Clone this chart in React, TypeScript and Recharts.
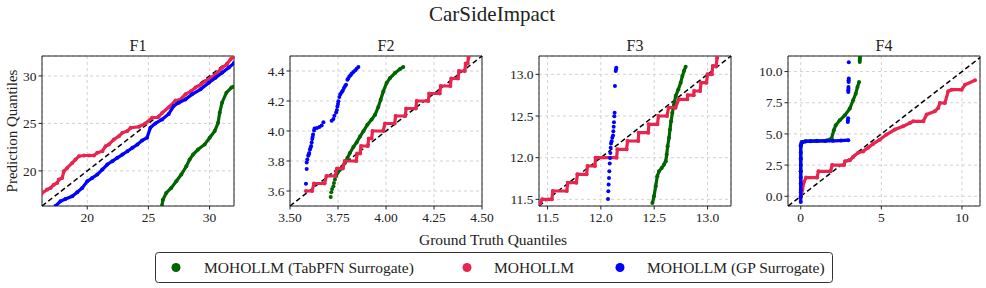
import React from "react";
import { ScatterChart, Scatter, XAxis, YAxis, CartesianGrid, ReferenceLine, ReferenceArea } from "recharts";

const GREEN = "#006400";
const RED = "#e8254f";
const BLUE = "#0000ff";
const INK = "#222";
const FONT = '"Liberation Serif", "Times New Roman", serif';

type P = [number, number];

// --- F1 ---
const f1Green: P[] = [[26.1,16.3],[26.19,16.97],[26.46,17.67],[26.87,18.2],[27.28,18.9],[27.69,19.61],[28.1,20.49],[28.37,21.19],[28.65,21.72],[29.06,22.25],[29.6,22.78],[30.01,23.48],[30.42,24.19],[30.7,25.07],[30.83,26.12],[31.02,27.18],[31.38,28.24],[31.79,28.77],[32.0,28.9]];
const f1Red: P[] = [[16.31,17.67],[16.72,18.03],[17.0,18.2],[17.27,18.55],[17.54,18.73],[17.68,19.08],[17.95,19.26],[18.09,19.96],[18.36,20.31],[18.77,20.84],[19.04,21.19],[19.32,21.55],[19.73,21.62],[20.14,21.62],[20.55,21.62],[20.82,21.9],[21.23,22.07],[21.5,22.6],[21.77,22.78],[22.18,23.31],[22.59,23.66],[22.87,24.01],[23.28,24.19],[23.55,24.54],[24.23,24.65],[24.75,25.0],[25.3,25.6],[25.8,25.65],[26.12,26.1],[26.66,26.7],[27.21,27.4],[27.6,27.5],[28.03,28.06],[28.5,28.4],[28.85,28.77],[29.3,29.1],[29.67,29.47],[30.1,29.8],[30.49,30.17],[31.04,30.88],[31.4,31.2],[31.72,31.76],[32.0,32.1]];
const f1Blue: P[] = [[17.4,16.3],[17.81,16.79],[18.22,17.04],[18.77,17.32],[19.18,17.74],[19.59,18.2],[20.0,18.9],[20.41,19.26],[20.82,19.61],[21.23,20.14],[21.64,20.67],[22.05,21.02],[22.46,21.37],[22.87,21.72],[23.28,22.07],[23.69,22.43],[24.1,22.78],[24.48,23.2],[24.89,23.5],[25.16,24.54],[25.57,25.0],[26.12,25.42],[26.66,26.0],[27.07,26.83],[27.48,27.18],[28.03,27.53],[28.57,28.06],[29.26,28.59],[29.94,29.29],[30.49,29.82],[31.04,30.35],[31.58,30.9],[32.0,31.35]];

// --- F2 ---
const f2GreenLow: P[] = [[3.712,3.56],[3.715,3.591],[3.719,3.613],[3.726,3.631],[3.729,3.653],[3.734,3.676],[3.74,3.702]];
const f2Green: P[] = [[3.74,3.702],[3.76,3.742],[3.786,3.787],[3.799,3.82],[3.812,3.853],[3.83,3.893],[3.847,3.924],[3.865,3.964],[3.882,3.998],[3.903,4.042],[3.925,4.076],[3.943,4.109],[3.96,4.16],[3.972,4.209],[3.986,4.264],[4.003,4.32],[4.021,4.353],[4.047,4.387],[4.073,4.413],[4.09,4.427]];
const f2Red: P[] = [[3.583,3.6],[3.615,3.6],[3.625,3.65],[3.68,3.65],[3.69,3.7],[3.735,3.7],[3.745,3.75],[3.775,3.75],[3.785,3.8],[3.845,3.8],[3.85,3.85],[3.865,3.85],[3.87,3.9],[3.905,3.9],[3.91,3.95],[3.925,3.95],[3.93,4.0],[3.985,4.0],[3.995,4.05],[4.045,4.05],[4.05,4.1],[4.1,4.1],[4.105,4.15],[4.155,4.15],[4.16,4.2],[4.22,4.2],[4.225,4.25],[4.28,4.25],[4.285,4.3],[4.335,4.3],[4.34,4.35],[4.375,4.35],[4.38,4.4],[4.41,4.4],[4.415,4.45],[4.425,4.45],[4.43,4.49]];
const f2Blue: P[] = [[3.583,3.649],[3.587,3.747],[3.587,3.79],[3.59,3.81],[3.595,3.835],[3.598,3.845],[3.6,3.853],[3.604,3.876],[3.607,3.888],[3.61,3.9],[3.613,3.924],[3.616,3.947],[3.618,3.96],[3.62,3.976],[3.625,4.004],[3.628,4.016],[3.64,4.02],[3.653,4.027],[3.665,4.036],[3.674,4.058],[3.717,4.069],[3.726,4.08],[3.731,4.102],[3.74,4.124],[3.744,4.14],[3.747,4.164],[3.75,4.18],[3.752,4.198],[3.757,4.227],[3.762,4.245],[3.769,4.258],[3.775,4.27],[3.781,4.287],[3.787,4.3],[3.792,4.309],[3.799,4.342],[3.803,4.35],[3.809,4.364],[3.815,4.372],[3.821,4.382],[3.83,4.393],[3.839,4.404],[3.847,4.415],[3.856,4.427]];

// --- F3 ---
const f3Green: P[] = [[12.483,11.456],[12.498,11.536],[12.514,11.657],[12.529,11.777],[12.545,11.837],[12.57,11.877],[12.592,11.917],[12.608,11.957],[12.617,12.037],[12.626,12.138],[12.639,12.238],[12.648,12.338],[12.658,12.438],[12.67,12.539],[12.686,12.639],[12.701,12.739],[12.726,12.819],[12.748,12.899],[12.764,12.979],[12.779,13.04],[12.795,13.092]];
const f3Red: P[] = [[11.43,11.45],[11.45,11.5],[11.54,11.5],[11.55,11.6],[11.68,11.6],[11.69,11.7],[11.77,11.7],[11.78,11.8],[11.866,11.8],[11.875,11.9],[11.944,11.9],[11.95,12.0],[12.147,12.0],[12.155,12.1],[12.241,12.1],[12.25,12.2],[12.35,12.2],[12.355,12.3],[12.445,12.3],[12.45,12.4],[12.53,12.4],[12.54,12.5],[12.62,12.5],[12.635,12.6],[12.7,12.6],[12.73,12.7],[12.81,12.7],[12.815,12.75],[12.87,12.75],[12.875,12.8],[12.93,12.8],[12.94,12.9],[12.99,12.9],[13.0,13.0],[13.04,13.0],[13.05,13.1],[13.08,13.1],[13.09,13.2]];
const f3Blue: P[] = [[12.067,11.504],[12.07,11.596],[12.073,11.677],[12.076,11.757],[12.079,11.837],[12.083,11.929],[12.086,11.997],[12.089,12.057],[12.092,12.118],[12.095,12.17],[12.101,12.198],[12.107,12.238],[12.114,12.266],[12.117,12.318],[12.12,12.37],[12.123,12.426],[12.126,12.498],[12.129,12.539],[12.132,12.859],[12.139,13.04],[12.142,13.06],[12.145,13.08]];

// --- F4 ---
const f4GreenMain: P[] = [[0,0.3],[0,1],[0,2],[0,3],[0,4],[0.05,4.35],[0.3,4.42],[1.0,4.45],[1.6,4.47],[1.91,4.63],[2.05,5.29],[2.17,5.69],[2.42,6.09],[2.73,6.49],[3.04,7.03],[3.25,7.7],[3.41,8.23],[3.52,8.76],[3.62,9.16]];
const f4GreenTail: P[] = [[3.66,10.77],[3.66,10.9],[3.67,11.05],[3.67,11.17]];
const f4Red: P[] = [[0,-0.1],[0.1,0.5],[0.2,1.15],[0.33,1.5],[1.01,1.5],[1.1,2.0],[1.85,2.0],[1.95,2.5],[2.68,2.5],[2.75,2.8],[3.04,2.89],[3.25,3.15],[3.56,3.5],[3.87,3.6],[4.18,3.9],[4.49,4.2],[4.9,4.54],[5.32,4.95],[5.84,5.35],[6.35,5.61],[6.77,5.88],[6.98,6.01],[7.6,6.01],[7.81,6.55],[8.32,6.81],[8.53,7.08],[8.63,7.48],[8.94,7.48],[9.15,8.42],[9.36,8.55],[9.98,8.55],[10.19,8.95],[10.81,9.3]];
const f4BlueMain: P[] = [[0,-0.45],[0,0],[0,0.5],[0,1],[0,1.5],[0,2],[0,2.5],[0,3],[0,3.5],[0,4.1],[0.05,4.25],[0.15,4.35],[0.3,4.4],[0.6,4.42],[1,4.43],[1.5,4.44],[2,4.45],[2.5,4.47],[2.95,4.5]];
const f4BlueTail: P[] = [[2.92,5.96],[2.93,6.1],[2.94,6.25],[2.95,8.36],[2.95,8.5],[2.96,8.62],[2.96,8.76],[2.97,9.16],[2.97,9.3],[2.98,9.44],[2.98,10.74]];

// --- ticks ---
const f1Ticks = [20, 25, 30];
const f2XTicks = [3.5, 3.75, 4.0, 4.25, 4.5];
const f2YTicks = [3.6, 3.8, 4.0, 4.2, 4.4];
const f3Ticks = [11.5, 12.0, 12.5, 13.0];
const f4XTicks = [0, 5, 10];
const f4YTicks = [0, 2.5, 5, 7.5, 10];

const legendItems = [
  { label: "MOHOLLM (TabPFN Surrogate)", color: GREEN, dot: 176, text: 204 },
  { label: "MOHOLLM", color: RED, dot: 467, text: 494 },
  { label: "MOHOLLM (GP Surrogate)", color: BLUE, dot: 620, text: 647 },
];

interface SeriesDef { data: P[]; color: string; line?: boolean }
interface PanelDef {
  title: string;
  left: number;
  xDomain: [number, number];
  yDomain: [number, number];
  xTicks: number[];
  yTicks: number[];
  xFmt: (v: number) => string;
  yFmt: (v: number) => string;
  series: SeriesDef[];
}

const PLOT_W = 192;
const PLOT_H = 150;
const PLOT_TOP = 56;
const Y_W = 45;

const panels: PanelDef[] = [
  {
    title: "F1", left: 42, xDomain: [16.3, 32], yDomain: [16.3, 32.1],
    xTicks: f1Ticks, yTicks: f1Ticks, xFmt: (v) => String(v), yFmt: (v) => String(v),
    series: [
      { data: f1Green, color: GREEN, line: true },
      { data: f1Red, color: RED, line: true },
      { data: f1Blue, color: BLUE, line: true },
    ],
  },
  {
    title: "F2", left: 290, xDomain: [3.5, 4.5], yDomain: [3.5, 4.5],
    xTicks: f2XTicks, yTicks: f2YTicks, xFmt: (v) => v.toFixed(2), yFmt: (v) => v.toFixed(1),
    series: [
      { data: f2GreenLow, color: GREEN },
      { data: f2Green, color: GREEN, line: true },
      { data: f2Red, color: RED, line: true },
      { data: f2Blue, color: BLUE },
    ],
  },
  {
    title: "F3", left: 539, xDomain: [11.42, 13.22], yDomain: [11.42, 13.22],
    xTicks: f3Ticks, yTicks: f3Ticks, xFmt: (v) => v.toFixed(1), yFmt: (v) => v.toFixed(1),
    series: [
      { data: f3Green, color: GREEN, line: true },
      { data: f3Red, color: RED, line: true },
      { data: f3Blue, color: BLUE },
    ],
  },
  {
    title: "F4", left: 788, xDomain: [-0.79, 11.12], yDomain: [-0.78, 11.25],
    xTicks: f4XTicks, yTicks: f4YTicks, xFmt: (v) => String(v), yFmt: (v) => v.toFixed(1),
    series: [
      { data: f4GreenMain, color: GREEN, line: true },
      { data: f4GreenTail, color: GREEN },
      { data: f4Red, color: RED, line: true },
      { data: f4BlueMain, color: BLUE, line: true },
      { data: f4BlueTail, color: BLUE },
    ],
  },
];

const toXY = (pts: P[]) => pts.map(([x, y]) => ({ x, y }));

const dot = (color: string) => (props: any) => (
  <circle cx={props.cx} cy={props.cy} r={2} fill={color} />
);

// serif tick labels drawn by hand so the font sticks
const xTick = (fmt: (v: number) => string) => (props: any) => (
  <text x={props.x} y={props.y} dy="0.75em" textAnchor="middle" fontSize={13.5} fontFamily={FONT} fill={INK}>
    {fmt(props.payload.value)}
  </text>
);
const yTick = (fmt: (v: number) => string) => (props: any) => (
  <text x={props.x} y={props.y} dy="0.35em" textAnchor="end" fontSize={13.5} fontFamily={FONT} fill={INK}>
    {fmt(props.payload.value)}
  </text>
);

function Panel({ p }: { p: PanelDef }) {
  const lo = Math.max(p.xDomain[0], p.yDomain[0]);
  const hi = Math.min(p.xDomain[1], p.yDomain[1]);
  return (
    <div style={{ position: "absolute", left: p.left - Y_W, top: PLOT_TOP - 10 }}>
      <ScatterChart width={Y_W + PLOT_W + 15} height={10 + PLOT_H + 25} margin={{ top: 10, right: 15, bottom: 0, left: 0 }}>
        <CartesianGrid strokeDasharray="3 3" stroke="#d2d2d2" />
        <XAxis
          type="number" dataKey="x" domain={p.xDomain} ticks={p.xTicks}
          allowDataOverflow interval={0} height={25} axisLine={false}
          tickSize={3.5} tickLine={{ stroke: INK }} tick={xTick(p.xFmt)}
        />
        <YAxis
          type="number" dataKey="y" domain={p.yDomain} ticks={p.yTicks}
          allowDataOverflow interval={0} width={Y_W} axisLine={false}
          tickSize={3.5} tickLine={{ stroke: INK }} tick={yTick(p.yFmt)}
        />
        {p.series.map((s, i) => (
          <Scatter
            key={i}
            data={toXY(s.data)}
            fill={s.color}
            line={s.line ? { stroke: s.color, strokeWidth: 3.2 } : false}
            shape={dot(s.color)}
            isAnimationActive={false}
          />
        ))}
        <ReferenceLine
          segment={[{ x: lo, y: lo }, { x: hi, y: hi }]}
          stroke="#000" strokeWidth={1.5} strokeDasharray="5 3" ifOverflow="visible"
        />
        <ReferenceArea
          x1={p.xDomain[0]} x2={p.xDomain[1]} y1={p.yDomain[0]} y2={p.yDomain[1]}
          fill="none" fillOpacity={0} stroke={INK} strokeWidth={1} ifOverflow="visible"
        />
      </ScatterChart>
    </div>
  );
}

export default function App() {
  return (
    <div style={{ position: "absolute", left: 0, top: 0, width: 986, height: 288, overflow: "hidden", background: "#fff", fontFamily: FONT }}>
      {panels.map((p) => (
        <Panel key={p.title} p={p} />
      ))}
      <svg width={986} height={288} style={{ position: "absolute", left: 0, top: 0, pointerEvents: "none", fontFamily: FONT }}>
        <text x={492} y={21} textAnchor="middle" fontSize={21} fill={INK}>CarSideImpact</text>
        {panels.map((p) => (
          <text key={p.title} x={p.left + PLOT_W / 2} y={50.5} textAnchor="middle" fontSize={16} fill={INK}>{p.title}</text>
        ))}
        <text transform="translate(17,131) rotate(-90)" textAnchor="middle" fontSize={15} fill={INK}>Prediction Quantiles</text>
        <text x={493} y={245} textAnchor="middle" fontSize={15.5} fill={INK}>Ground Truth Quantiles</text>
        <rect x={155.5} y={252.5} width={677} height={30} rx={3} fill="#fff" stroke="#333" strokeWidth={1} />
        {legendItems.map((it) => (
          <g key={it.label}>
            <circle cx={it.dot} cy={267.5} r={4.5} fill={it.color} />
            <text x={it.text} y={272.5} fontSize={15.5} fill={INK}>{it.label}</text>
          </g>
        ))}
      </svg>
    </div>
  );
}
